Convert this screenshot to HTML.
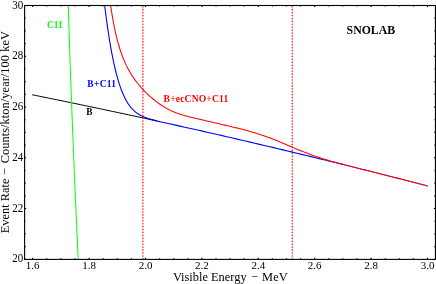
<!DOCTYPE html>
<html lang="en"><head><meta charset="utf-8"><title>plot</title>
<style>
html,body{margin:0;padding:0;background:#fff;}
body{width:436px;height:284px;overflow:hidden;font-family:"Liberation Serif",serif;}
svg{display:block;will-change:transform;}
text{font-family:"Liberation Serif",serif;}
</style></head><body>
<svg width="436" height="284" viewBox="0 0 436 284">
<rect width="436" height="284" fill="#fff"/>
<defs><clipPath id="c"><rect x="24.6" y="5.5" width="410.85" height="253.90"/></clipPath></defs>
<g clip-path="url(#c)" fill="none" stroke-linejoin="round">
<path d="M32.20 94.77 L35.40 95.42 L38.60 96.06 L41.80 96.71 L45.00 97.36 L48.20 98.01 L51.40 98.66 L54.60 99.31 L57.80 99.97 L61.00 100.62 L64.20 101.28 L67.40 101.94 L70.60 102.60 L73.80 103.26 L77.00 103.93 L80.20 104.59 L83.40 105.26 L86.60 105.93 L89.80 106.60 L93.00 107.27 L96.20 107.94 L99.40 108.62 L102.60 109.29 L105.80 109.97 L109.00 110.65 L112.20 111.33 L115.40 112.01 L118.60 112.70 L121.80 113.38 L125.00 114.07 L128.20 114.76 L131.40 115.45 L134.60 116.14 L137.80 116.83 L141.00 117.53 L144.20 118.22 L147.40 118.92 L150.60 119.62 L153.80 120.32 L157.00 121.02" stroke="#000" stroke-width="1.0"/>
<path d="M68.25 5.20 L68.52 13.97 L68.79 22.73 L69.08 31.50 L69.36 40.26 L69.66 49.03 L69.95 57.79 L70.26 66.56 L70.57 75.32 L70.88 84.09 L71.20 92.86 L71.52 101.62 L71.85 110.39 L72.19 119.15 L72.52 127.92 L72.87 136.68 L73.22 145.45 L73.58 154.21 L73.94 162.98 L74.30 171.74 L74.67 180.51 L75.05 189.28 L75.43 198.04 L75.82 206.81 L76.21 215.57 L76.61 224.34 L77.01 233.10 L77.42 241.87 L77.83 250.63 L78.25 259.40" stroke="#00ff00" stroke-width="1.0"/>
<path d="M104.40 3.20 L104.80 6.52 L105.20 9.75 L105.60 12.91 L106.00 15.99 L106.40 19.00 L106.80 21.93 L107.20 24.80 L107.60 27.60 L108.00 30.33 L108.40 32.99 L108.80 35.58 L109.20 38.11 L109.60 40.58 L110.00 42.98 L110.40 45.33 L110.80 47.61 L111.20 49.84 L111.60 52.01 L112.00 54.12 L112.40 56.17 L112.80 58.17 L113.20 60.12 L113.60 62.02 L114.00 63.86 L114.40 65.66 L114.80 67.40 L115.20 69.10 L115.60 70.75 L116.00 72.35 L116.40 73.91 L116.80 75.43 L117.20 76.90 L117.60 78.33 L118.00 79.71 L118.40 81.06 L118.80 82.37 L119.20 83.64 L119.60 84.87 L120.00 86.06 L120.40 87.22 L120.80 88.35 L121.20 89.44 L121.60 90.49 L122.00 91.52 L122.40 92.51 L122.80 93.47 L123.20 94.40 L123.60 95.30 L124.00 96.17 L124.40 97.02 L124.80 97.83 L125.20 98.63 L125.60 99.39 L126.00 100.13 L126.40 100.85 L126.80 101.54 L127.20 102.21 L127.60 102.86 L128.00 103.48 L128.40 104.09 L128.80 104.67 L129.20 105.24 L129.60 105.79 L130.00 106.31 L130.40 106.82 L130.80 107.32 L131.20 107.79 L131.60 108.25 L132.00 108.70 L132.40 109.12 L132.80 109.54 L133.20 109.94 L133.60 110.33 L134.00 110.70 L134.40 111.06 L134.80 111.41 L135.20 111.75 L135.60 112.07 L136.00 112.39 L136.40 112.69 L136.80 112.98 L137.20 113.27 L137.60 113.54 L138.00 113.81 L138.40 114.07 L138.80 114.31 L139.20 114.56 L139.60 114.79 L140.00 115.01 L140.40 115.23 L140.80 115.45 L141.20 115.65 L141.60 115.85 L142.00 116.05 L142.40 116.23 L142.80 116.42 L143.20 116.60 L143.60 116.77 L144.00 116.94 L144.40 117.10 L144.80 117.26 L145.20 117.42 L145.60 117.57 L146.00 117.72 L146.40 117.86 L146.80 118.00 L147.20 118.14 L147.60 118.28 L148.00 118.41 L148.40 118.54 L148.80 118.67 L149.20 118.79 L149.60 118.92 L150.00 119.04 L150.40 119.15 L150.80 119.27 L151.20 119.39 L151.60 119.50 L152.00 119.61 L156.67 120.87 L161.35 121.96 L166.02 123.01 L170.70 124.05 L175.37 125.09 L180.05 126.13 L184.72 127.17 L189.40 128.22 L194.07 129.27 L198.75 130.33 L203.42 131.38 L208.09 132.45 L212.77 133.51 L217.44 134.58 L222.12 135.65 L226.79 136.72 L231.47 137.80 L236.14 138.88 L240.82 139.97 L245.49 141.05 L250.17 142.15 L254.84 143.24 L259.52 144.34 L264.19 145.44 L268.86 146.54 L273.54 147.65 L278.21 148.76 L282.89 149.87 L287.56 150.99 L292.24 152.11 L296.91 153.23 L301.59 154.36 L306.26 155.49 L310.94 156.63 L315.61 157.76 L320.28 158.90 L324.96 160.05 L329.63 161.19 L334.31 162.34 L338.98 163.50 L343.66 164.65" stroke="#0000ff" stroke-width="1.1"/>
<path d="M343.66 164.65 L348.33 165.81 L353.01 166.97 L357.68 168.14 L362.36 169.31 L367.03 170.48 L371.71 171.66 L376.38 172.84 L381.05 174.02 L385.73 175.21 L390.40 176.40 L395.08 177.59 L399.75 178.79 L404.43 179.99 L409.10 181.19 L413.78 182.39 L418.45 183.60 L423.13 184.82 L427.80 186.03" stroke="#0000ff" stroke-width="0.75"/>
<path d="M110.30 2.95 L110.90 7.18 L111.50 11.16 L112.11 14.92 L112.71 18.47 L113.31 21.82 L113.91 25.00 L114.51 28.00 L115.12 30.86 L115.72 33.56 L116.32 36.13 L116.92 38.58 L117.52 40.91 L118.13 43.12 L118.73 45.24 L119.33 47.26 L119.93 49.19 L120.53 51.03 L121.14 52.80 L121.74 54.49 L122.34 56.12 L122.94 57.67 L123.54 59.17 L124.15 60.61 L124.75 62.00 L125.35 63.34 L125.95 64.63 L126.55 65.88 L127.16 67.08 L127.76 68.24 L128.36 69.37 L128.96 70.46 L129.56 71.52 L130.17 72.55 L130.77 73.55 L131.37 74.52 L131.97 75.47 L132.57 76.39 L133.18 77.29 L133.78 78.16 L134.38 79.02 L134.98 79.85 L135.58 80.67 L136.19 81.47 L136.79 82.25 L137.39 83.02 L137.99 83.77 L138.59 84.50 L139.20 85.23 L139.80 85.93 L140.40 86.63 L141.00 87.31 L141.60 87.99 L142.21 88.65 L142.81 89.30 L143.41 89.94 L144.01 90.57 L144.61 91.19 L145.22 91.80 L145.82 92.41 L146.42 93.00 L147.02 93.58 L147.62 94.16 L148.23 94.73 L148.83 95.29 L149.43 95.84 L150.03 96.38 L150.63 96.92 L151.24 97.45 L151.84 97.97 L152.44 98.48 L153.04 98.99 L153.64 99.49 L154.25 99.98 L154.85 100.46 L155.45 100.94 L156.05 101.40 L156.66 101.86 L157.26 102.32 L157.86 102.76 L158.46 103.20 L159.06 103.63 L159.67 104.05 L160.27 104.47 L160.87 104.88 L161.47 105.28 L162.07 105.67 L162.68 106.05 L163.28 106.43 L163.88 106.80 L164.48 107.16 L165.08 107.52 L165.69 107.87 L166.29 108.21 L166.89 108.54 L167.49 108.86 L168.09 109.18 L168.70 109.49 L169.30 109.80 L169.90 110.09 L170.50 110.38 L171.10 110.67 L171.71 110.94 L172.31 111.21 L172.91 111.48 L173.51 111.74 L174.11 111.99 L174.72 112.23 L175.32 112.47 L175.92 112.71 L176.52 112.94 L177.12 113.16 L177.73 113.38 L178.33 113.59 L178.93 113.80 L179.53 114.00 L180.13 114.20 L180.74 114.40 L181.34 114.59 L181.94 114.78 L182.54 114.96 L183.14 115.14 L183.75 115.32 L184.35 115.49 L184.95 115.66 L185.55 115.83 L186.15 116.00 L186.76 116.16 L187.36 116.32 L187.96 116.48 L188.56 116.64 L189.16 116.79 L189.77 116.95 L190.37 117.10 L190.97 117.25 L191.57 117.40 L192.17 117.55 L192.78 117.69 L193.38 117.84 L193.98 117.98 L194.58 118.13 L195.18 118.27 L195.79 118.41 L196.39 118.55 L196.99 118.69 L197.59 118.83 L198.19 118.97 L198.80 119.11 L199.40 119.25 L200.00 119.38 L201.91 119.82 L203.83 120.26 L205.74 120.70 L207.66 121.14 L209.57 121.58 L211.49 122.02 L213.40 122.46 L215.31 122.90 L217.23 123.34 L219.14 123.78 L221.06 124.23 L222.97 124.67 L224.89 125.12 L226.80 125.57 L228.71 126.02 L230.63 126.48 L232.54 126.94 L234.46 127.41 L236.37 127.88 L238.29 128.36 L240.20 128.84 L242.11 129.33 L244.03 129.83 L245.94 130.34 L247.86 130.86 L249.77 131.40 L251.69 131.94 L253.60 132.50 L255.51 133.08 L257.43 133.67 L259.34 134.28 L261.26 134.91 L263.17 135.55 L265.09 136.22 L267.00 136.90 L268.91 137.60 L270.83 138.32 L272.74 139.06 L274.66 139.81 L276.57 140.58 L278.49 141.36 L280.40 142.16 L282.31 142.97 L284.23 143.78 L286.14 144.60 L288.06 145.42 L289.97 146.25 L291.89 147.07 L293.80 147.89 L295.71 148.71 L297.63 149.51 L299.54 150.31 L301.46 151.09 L303.37 151.86 L305.29 152.61 L307.20 153.35 L309.11 154.07 L311.03 154.78 L312.94 155.46 L314.86 156.13 L316.77 156.78 L318.69 157.42 L320.60 158.03 L322.51 158.64 L324.43 159.22 L326.34 159.80 L328.26 160.36 L330.17 160.91 L332.09 161.45 L334.00 161.98 L335.91 162.50 L337.83 163.02 L339.74 163.53 L341.66 164.03 L343.57 164.53 L345.49 165.02 L347.40 165.52 L349.31 166.00 L351.23 166.49 L353.14 166.98 L355.06 167.46 L356.97 167.95 L358.89 168.43 L360.80 168.91 L362.71 169.39 L364.63 169.87 L366.54 170.36 L368.46 170.84 L370.37 171.32 L372.29 171.80 L374.20 172.29 L376.11 172.77 L378.03 173.26 L379.94 173.74 L381.86 174.23 L383.77 174.71 L385.69 175.20 L387.60 175.68 L389.51 176.17 L391.43 176.66 L393.34 177.15 L395.26 177.64 L397.17 178.13 L399.09 178.62 L401.00 179.11 L402.91 179.60 L404.83 180.09 L406.74 180.58 L408.66 181.07 L410.57 181.57 L412.49 182.06 L414.40 182.56 L416.31 183.05 L418.23 183.55 L420.14 184.04 L422.06 184.54 L423.97 185.04 L425.89 185.53 L427.80 186.03" stroke="#ff0000" stroke-width="1.05"/>
<path d="M142.9 5.5 V259.4 M292.3 5.5 V259.4" stroke="#ff0000" stroke-width="1.3" stroke-opacity="0.12"/>
<path d="M142.9 3.77 V260.4" stroke="#ff0000" stroke-width="1.6" stroke-linecap="round" stroke-dasharray="0 2.9326" stroke-opacity="0.8"/>
<path d="M292.3 3.77 V260.4" stroke="#ff0000" stroke-width="1.6" stroke-linecap="round" stroke-dasharray="0 2.9326" stroke-opacity="0.8"/>
</g>
<rect x="24.6" y="5.5" width="410.85" height="253.90" fill="none" stroke="#000" stroke-width="1.1"/>
<path d="M32.70 259.40 v-1.55 M32.70 5.50 v1.55 M46.80 259.40 v-1.05 M46.80 5.50 v1.05 M60.90 259.40 v-1.05 M60.90 5.50 v1.05 M75.00 259.40 v-1.05 M75.00 5.50 v1.05 M89.10 259.40 v-1.55 M89.10 5.50 v1.55 M103.20 259.40 v-1.05 M103.20 5.50 v1.05 M117.30 259.40 v-1.05 M117.30 5.50 v1.05 M131.40 259.40 v-1.05 M131.40 5.50 v1.05 M145.50 259.40 v-1.55 M145.50 5.50 v1.55 M159.60 259.40 v-1.05 M159.60 5.50 v1.05 M173.70 259.40 v-1.05 M173.70 5.50 v1.05 M187.80 259.40 v-1.05 M187.80 5.50 v1.05 M201.90 259.40 v-1.55 M201.90 5.50 v1.55 M216.00 259.40 v-1.05 M216.00 5.50 v1.05 M230.10 259.40 v-1.05 M230.10 5.50 v1.05 M244.20 259.40 v-1.05 M244.20 5.50 v1.05 M258.30 259.40 v-1.55 M258.30 5.50 v1.55 M272.40 259.40 v-1.05 M272.40 5.50 v1.05 M286.50 259.40 v-1.05 M286.50 5.50 v1.05 M300.60 259.40 v-1.05 M300.60 5.50 v1.05 M314.70 259.40 v-1.55 M314.70 5.50 v1.55 M328.80 259.40 v-1.05 M328.80 5.50 v1.05 M342.90 259.40 v-1.05 M342.90 5.50 v1.05 M357.00 259.40 v-1.05 M357.00 5.50 v1.05 M371.10 259.40 v-1.55 M371.10 5.50 v1.55 M385.20 259.40 v-1.05 M385.20 5.50 v1.05 M399.30 259.40 v-1.05 M399.30 5.50 v1.05 M413.40 259.40 v-1.05 M413.40 5.50 v1.05 M427.50 259.40 v-1.55 M427.50 5.50 v1.55 M24.60 259.30 h1.55 M435.45 259.30 h-1.55 M24.60 246.61 h1.05 M435.45 246.61 h-1.05 M24.60 233.92 h1.05 M435.45 233.92 h-1.05 M24.60 221.23 h1.05 M435.45 221.23 h-1.05 M24.60 208.54 h1.55 M435.45 208.54 h-1.55 M24.60 195.85 h1.05 M435.45 195.85 h-1.05 M24.60 183.16 h1.05 M435.45 183.16 h-1.05 M24.60 170.47 h1.05 M435.45 170.47 h-1.05 M24.60 157.78 h1.55 M435.45 157.78 h-1.55 M24.60 145.09 h1.05 M435.45 145.09 h-1.05 M24.60 132.40 h1.05 M435.45 132.40 h-1.05 M24.60 119.71 h1.05 M435.45 119.71 h-1.05 M24.60 107.02 h1.55 M435.45 107.02 h-1.55 M24.60 94.33 h1.05 M435.45 94.33 h-1.05 M24.60 81.64 h1.05 M435.45 81.64 h-1.05 M24.60 68.95 h1.05 M435.45 68.95 h-1.05 M24.60 56.26 h1.55 M435.45 56.26 h-1.55 M24.60 43.57 h1.05 M435.45 43.57 h-1.05 M24.60 30.88 h1.05 M435.45 30.88 h-1.05 M24.60 18.19 h1.05 M435.45 18.19 h-1.05 M24.60 5.50 h1.55 M435.45 5.50 h-1.55" stroke="#000" stroke-width="1.15" fill="none"/>
<g font-size="11" fill="#000"><text x="32.70" y="269.0" text-anchor="middle">1.6</text><text x="89.10" y="269.0" text-anchor="middle">1.8</text><text x="145.50" y="269.0" text-anchor="middle">2.0</text><text x="201.90" y="269.0" text-anchor="middle">2.2</text><text x="258.30" y="269.0" text-anchor="middle">2.4</text><text x="314.70" y="269.0" text-anchor="middle">2.6</text><text x="371.10" y="269.0" text-anchor="middle">2.8</text><text x="427.50" y="269.0" text-anchor="middle">3.0</text><text transform="translate(23.3 262.40) scale(1 1.08)" text-anchor="end">20</text><text transform="translate(23.3 211.64) scale(1 1.08)" text-anchor="end">22</text><text transform="translate(23.3 160.88) scale(1 1.08)" text-anchor="end">24</text><text transform="translate(23.3 110.12) scale(1 1.08)" text-anchor="end">26</text><text transform="translate(23.3 59.36) scale(1 1.08)" text-anchor="end">28</text><text transform="translate(23.3 8.60) scale(1 1.08)" text-anchor="end">30</text></g>
<text id="xt" x="172.9" y="281.2" font-size="12.4">Visible Energy<tspan dx="1.2"> &#8722;</tspan><tspan dx="1.0" letter-spacing="0.12"> MeV</tspan></text>
<text id="yt" transform="translate(9.2 233.25) rotate(-90)" font-size="12.4">Event Rate<tspan dx="0.4"> &#8722;</tspan><tspan dx="1.6" letter-spacing="0.05"> Counts/kton/year/100 keV</tspan></text>
<g font-weight="bold">
<text id="sno" x="346.6" y="34.2" font-size="11.8">SNOLAB</text>
<text id="c11" x="47.1" y="27.6" font-size="9.4" fill="#00ff00">C11</text>
<text id="bc11" x="87.3" y="86.6" font-size="9.4" textLength="28.7" fill="#0000ff">B+C11</text>
<text id="becc" x="163.6" y="101.9" font-size="9.6" textLength="64.6" fill="#ff0000">B+ecCNO+C11</text>
<text id="b" x="86.2" y="114.5" font-size="9.4" fill="#000">B</text>
</g>
</svg>
</body></html>
